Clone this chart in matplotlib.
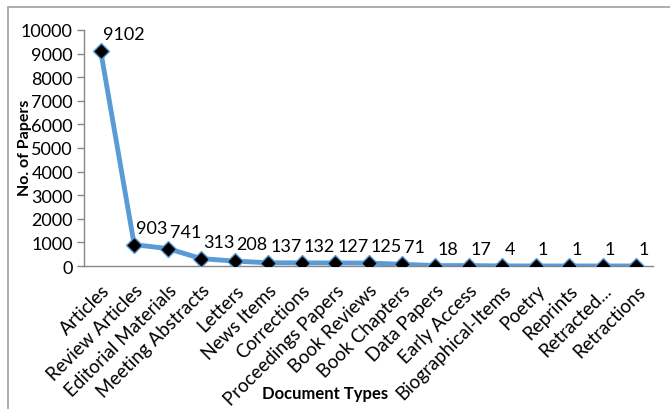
import matplotlib
matplotlib.use("Agg")
import matplotlib.pyplot as plt
from matplotlib.patches import Rectangle

categories = ["Articles", "Review Articles", "Editorial Materials", "Meeting Abstracts",
              "Letters", "News Items", "Corrections", "Proceedings Papers", "Book Reviews",
              "Book Chapters", "Data Papers", "Early Access", "Biographical-Items", "Poetry",
              "Reprints", "Retracted...", "Retractions"]
papers = [9102, 903, 741, 313, 208, 137, 132, 127, 125, 71, 18, 17, 4, 1, 1, 1, 1]
y_ticks = list(range(0, 10001, 1000))

plt.rcParams["font.family"] = ["Lato", "DejaVu Sans"]

W, H = 670, 410
fig = plt.figure(figsize=(W / 100, H / 100), dpi=100)
ax = fig.add_axes([84 / W, 1 - 267 / H, (653 - 84) / W, (267 - 31) / H])

x = list(range(len(categories)))
ax.plot(x, papers, color="#5B9BD5", lw=3.5, zorder=2)
ax.plot(x, papers, ls="none", marker="D", ms=8, mfc="black", mec="#5B9BD5", mew=1, zorder=3)

for xi, v in zip(x, papers):
    ax.annotate(str(v), (xi, v), xytext=(2, 17), textcoords="offset pixels",
                ha="left", va="center", fontsize=13, color="black")

ax.set_xlim(-0.5, len(categories) - 0.5)
ax.set_ylim(0, 10000)
ax.set_yticks(y_ticks)
ax.set_yticklabels([str(t) for t in y_ticks], fontsize=13)
ax.set_xticks(x)
ax.set_xticklabels(categories, rotation=45, ha="right", va="top",
                   rotation_mode="anchor", fontsize=13.5)
ax.tick_params(axis="x", length=0, pad=11)
ax.tick_params(axis="y", length=5, width=1, color="#868686", pad=3)

for s in ["top", "right"]:
    ax.spines[s].set_visible(False)
for s in ["left", "bottom"]:
    ax.spines[s].set_color("#868686")
    ax.spines[s].set_linewidth(1)

fig.text(25 / W, 1 - 148 / H, "No. of Papers", rotation=90, ha="center", va="center",
         fontsize=11.5, fontweight="bold")
fig.text(325 / W, 1 - 394 / H, "Document Types", ha="center", va="center",
         fontsize=12, fontweight="bold")

# chart area border
fig.patches.append(Rectangle((8 / W, -0.1), 2, 1.1 - 8 / H, transform=fig.transFigure,
                             fill=False, edgecolor="#A0A0A0", lw=1.2, clip_on=False))

fig.savefig("out.png", dpi=100)
